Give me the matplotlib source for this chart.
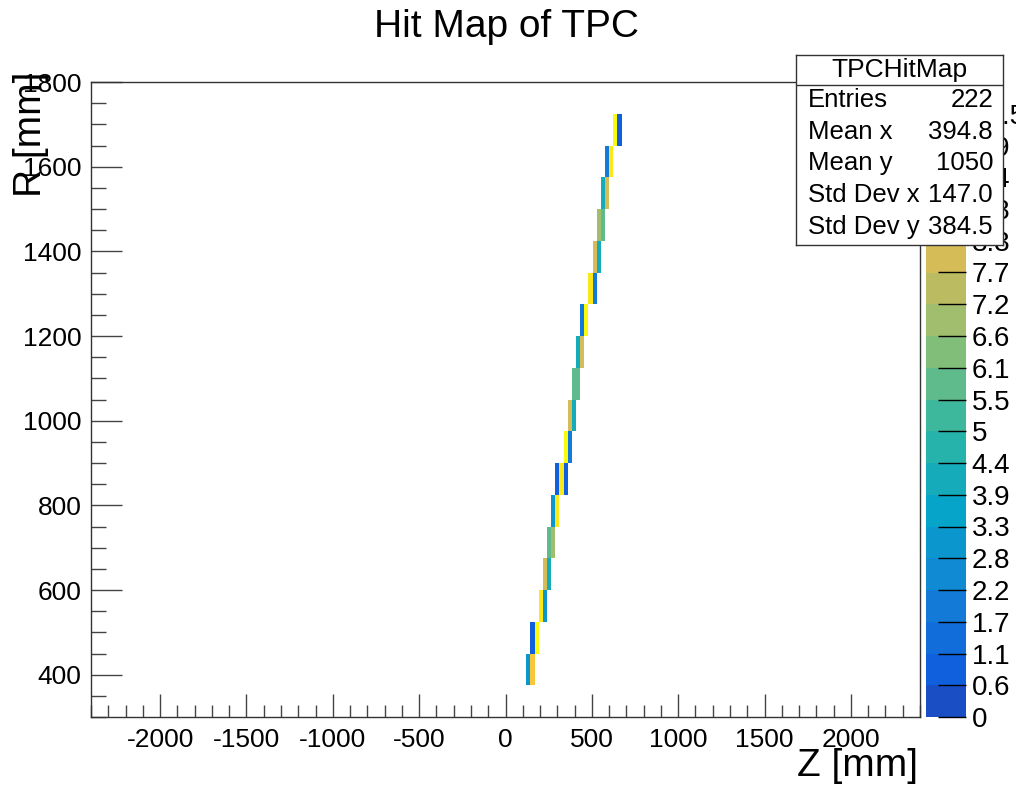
import numpy as np
import matplotlib
matplotlib.use('Agg')
import matplotlib.pyplot as plt
from matplotlib.colors import ListedColormap, BoundaryNorm, LinearSegmentedColormap
from matplotlib.ticker import MultipleLocator

plt.rcParams['font.family'] = ['Liberation Sans', 'DejaVu Sans']
plt.rcParams['axes.unicode_minus'] = False

# 每一行 R 的格子中心 (mm)
row_r = [412.5, 487.5, 562.5, 637.5, 712.5, 787.5, 862.5, 937.5, 1012.5,
         1087.5, 1162.5, 1237.5, 1312.5, 1387.5, 1462.5, 1537.5, 1612.5, 1687.5]
# 每一行被击中格子的 Z 中心 (mm)
row_z = [[132, 156], [156, 180], [204, 228], [228, 252], [252, 276],
         [276, 300], [300, 324, 348], [348, 372], [372, 396], [396, 420],
         [420, 444], [444, 468], [492, 516], [516, 540], [540, 564],
         [564, 588], [588, 612], [636, 660]]
# 每个格子的计数
row_n = [[3, 9], [1, 11], [10, 3], [8, 4], [6, 7],
         [3, 10], [1, 10, 1], [11, 2], [8, 4], [6, 6],
         [4, 8], [2, 11], [10, 2], [8, 4], [7, 6],
         [4, 8], [2, 10], [11, 1]]

# 统计框内容
stat_title = 'TPCHitMap'
stat_names = ['Entries', 'Mean x', 'Mean y', 'Std Dev x', 'Std Dev y']
stat_values = ['222', '394.8', '1050', '147.0', '384.5']

# 色标刻度
cbar_labels = ['0', '0.6', '1.1', '1.7', '2.2', '2.8', '3.3', '3.9', '4.4', '5',
               '5.5', '6.1', '6.6', '7.2', '7.7', '8.3', '8.8', '9.4', '9.9',
               '10.5', '11']

# 展开成一维
hit_z, hit_r, hit_n = [], [], []
for r, zs, ns in zip(row_r, row_z, row_n):
    for z, n in zip(zs, ns):
        hit_z.append(z)
        hit_r.append(r)
        hit_n.append(n)

# 分bin: Z 200 个, R 20 个
z_edges = np.linspace(-2400, 2400, 201)
r_edges = np.linspace(300, 1800, 21)

# ROOT kBird 调色板
bird_r = [0.2082, 0.0592, 0.0780, 0.0232, 0.1802, 0.5301, 0.8186, 0.9956, 0.9764]
bird_g = [0.1664, 0.3599, 0.5041, 0.6419, 0.7178, 0.7492, 0.7328, 0.7862, 0.9832]
bird_b = [0.5293, 0.8684, 0.8385, 0.7914, 0.6425, 0.4662, 0.3499, 0.1968, 0.0539]
bird = LinearSegmentedColormap.from_list('bird', list(zip(bird_r, bird_g, bird_b)))
levels = np.linspace(0, 11, 21)
cmap = ListedColormap([bird(0.09 + i * 0.91 / 19) for i in range(20)])
norm = BoundaryNorm(levels, 20)

W, H = 1016, 785
fig = plt.figure(figsize=(W / 100, H / 100), dpi=100)
ax = fig.add_axes([91 / W, 1 - 717 / H, (920 - 91) / W, (717 - 82) / H])
cax = fig.add_axes([926 / W, 1 - 717 / H, 40 / W, (717 - 82) / H])

h = ax.hist2d(hit_z, hit_r, bins=[z_edges, r_edges], weights=hit_n,
              cmap=cmap, norm=norm, cmin=0.5)
ax.set_xlim(-2400, 2400)
ax.set_ylim(300, 1800)

ax.set_xticks(np.arange(-2000, 2001, 500))
ax.xaxis.set_minor_locator(MultipleLocator(100))
ax.set_yticks(np.arange(400, 1801, 200))
ax.yaxis.set_minor_locator(MultipleLocator(50))
ax.tick_params(axis='x', which='major', direction='in', length=16.5, width=1,
               labelsize=19, pad=8, color='#444444')
ax.tick_params(axis='x', which='minor', direction='in', length=8.5, width=1, color='#444444')
ax.tick_params(axis='y', which='major', direction='in', length=22, width=1,
               labelsize=19, pad=7, color='#444444')
ax.tick_params(axis='y', which='minor', direction='in', length=11, width=1, color='#444444')
for s in ax.spines.values():
    s.set_linewidth(1)
    s.set_color('#333333')

# 色标
cb = fig.colorbar(h[3], cax=cax, ticks=levels)
cb.ax.set_yticklabels(cbar_labels)
cb.outline.set_visible(False)
cax.tick_params(direction='in', length=20, width=1, labelsize=20, pad=4, right=True)

# 标题和轴标签
fig.text(0.498, 1 - 27 / H, 'Hit Map of TPC', fontsize=28, ha='center', va='center')
fig.text(918 / W, 1 - 766 / H, 'Z [mm]', fontsize=28, ha='right', va='center')
fig.text(31 / W, 1 - 72 / H, 'R [mm]', fontsize=28, ha='center', va='top', rotation=90)

# 统计框
sax = fig.add_axes([796 / W, 1 - 245 / H, 207 / W, 190 / H], zorder=10)
sax.set_xlim(0, 207)
sax.set_ylim(190, 0)
sax.set_xticks([])
sax.set_yticks([])
for s in sax.spines.values():
    s.set_linewidth(1)
    s.set_color('#333333')
sax.axhline(30, color='#333333', lw=1)
sax.text(103.5, 15, stat_title, fontsize=19, ha='center', va='center')
for i, (name, val) in enumerate(zip(stat_names, stat_values)):
    y = 45 + i * 31.7
    sax.text(12, y, name, fontsize=18.5, ha='left', va='center')
    sax.text(197, y, val, fontsize=18.5, ha='right', va='center')

plt.savefig('out.png', dpi=100)
